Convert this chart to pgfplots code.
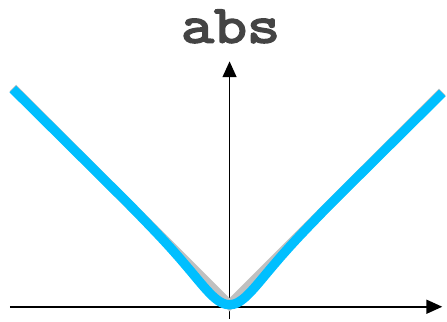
\documentclass[border=0pt]{standalone}
\usepackage{pgfplots}
\pgfplotsset{compat=1.18}
\usetikzlibrary{arrows.meta}
\usepackage{fontspec}
\newfontfamily\titlefont{Latin Modern Mono}[FakeStretch=1.2, FakeBold=3.5]
\definecolor{skyb}{RGB}{0,191,255}
\definecolor{silv}{RGB}{192,192,192}
\definecolor{titlegray}{RGB}{68,68,68}
\begin{document}
\begin{tikzpicture}
\begin{axis}[
  x=1pt, y=1pt,
  xmin=-222, xmax=215, ymin=-12, ymax=248,
  axis lines=middle,
  axis line style={line width=1.8pt},
  every inner x axis line/.append style={-{Triangle[length=16pt,width=14pt]}},
  every inner y axis line/.append style={-{Triangle[length=16pt,width=14pt]}},
  xtick=\empty, ytick=\empty,
  clip=false,
]
\path (axis cs:-232,-15) rectangle (axis cs:215,310);
\node[anchor=base, font=\titlefont\fontsize{54}{54}\selectfont, text=titlegray, inner sep=0pt] at (axis cs:1,267) {abs};
\addplot[silv, line width=9.5pt, line join=miter] coordinates {(-219,221) (0,2) (215,217)};
\addplot[skyb, line width=9.5pt, smooth] coordinates {
(-219,220) (-110,111.86) (-85,86.41) (-70,70.70) (-60,59.84) (-50,48.55) (-40,36.80) (-35,30.83) (-30,24.85) (-25,19.06) (-20,13.66) (-16,9.80) (-12,6.56) (-8,4.08) (-4,2.53) (0,2)
(4,2.53) (8,4.08) (12,6.56) (16,9.80) (20,13.66) (25,19.06) (30,24.85) (35,30.83) (40,36.80) (50,48.55) (60,59.84) (70,70.70) (85,86.41) (110,111.86) (215,216)};
\end{axis}
\end{tikzpicture}
\end{document}
